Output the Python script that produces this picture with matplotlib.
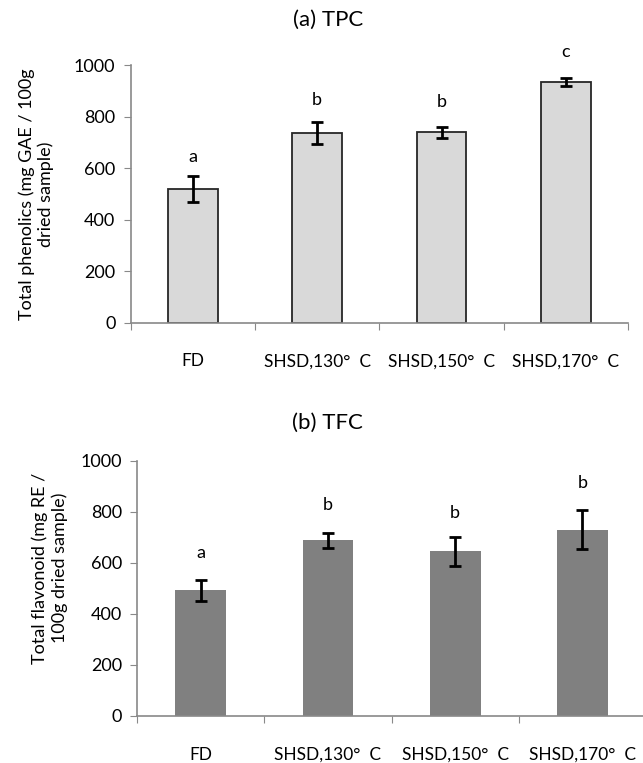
import numpy as np
import matplotlib
matplotlib.use("Agg")
import matplotlib.pyplot as plt

plt.rcParams["font.family"] = ["Lato", "DejaVu Sans"]

categories = ["FD", "SHSD,130°  C", "SHSD,150°  C", "SHSD,170°  C"]

# (a) TPC
tpc_mean = [519, 735, 739, 934]
tpc_err = [50, 42, 22, 15]
tpc_letters = ["a", "b", "b", "c"]
tpc_letter_y = [644, 864, 858, 1052]

# (b) TFC
tfc_mean = [492, 688, 645, 730]
tfc_err = [42, 30, 56, 75]
tfc_letters = ["a", "b", "b", "b"]
tfc_letter_y = [638, 827, 796, 913]

fig = plt.figure(figsize=(6.43, 7.63), dpi=100)
ax1 = fig.add_axes([0.2033, 0.577, 0.7734, 0.3378])
ax2 = fig.add_axes([0.2135, 0.0616, 0.7912, 0.3346])

spine_col = "#898989"


def draw_panel(ax, means, errs, letters, letter_y, face, edge, ylabel, label_xy):
    x = np.arange(len(categories))
    if edge is None:
        ax.bar(x, means, width=0.4, color=face, zorder=2)
    else:
        ax.bar(x, means, width=0.4, color=face, edgecolor=edge, linewidth=1.3, zorder=2)
    ax.errorbar(x, means, yerr=errs, fmt="none", ecolor="black",
                elinewidth=2, capsize=4.5, capthick=2, zorder=3)
    for xi, lt, ly in zip(x, letters, letter_y):
        ax.text(xi, ly, lt, ha="center", va="center", fontsize=13, clip_on=False)

    ax.set_xlim(-0.5, len(categories) - 0.5)
    ax.set_ylim(0, 1000)
    ax.set_yticks(range(0, 1001, 200))
    ax.set_xticks(np.arange(len(categories) + 1) - 0.5)
    ax.set_xticklabels([])
    ax.set_xticks(x, minor=True)
    ax.set_xticklabels(categories, minor=True)
    ax.tick_params(axis="x", which="major", length=5, direction="out", color=spine_col)
    ax.tick_params(axis="x", which="minor", length=0, pad=22, labelsize=12.5)
    ax.tick_params(axis="y", length=5, direction="out", color=spine_col, labelsize=13, pad=6)

    for s in ["top", "right"]:
        ax.spines[s].set_visible(False)
    for s in ["left", "bottom"]:
        ax.spines[s].set_color(spine_col)
        ax.spines[s].set_linewidth(1.2)

    ax.set_ylabel(ylabel, fontsize=13, ha="center", va="center", multialignment="center")
    ax.yaxis.set_label_coords(*label_xy)


draw_panel(ax1, tpc_mean, tpc_err, tpc_letters, tpc_letter_y, "#d9d9d9", "#262626",
           "Total phenolics (mg GAE / 100g\ndried sample)", (-0.19, 0.5))
draw_panel(ax2, tfc_mean, tfc_err, tfc_letters, tfc_letter_y, "#808080", None,
           "Total flavonoid (mg RE /\n100g dried sample)", (-0.172, 0.58))

fig.text(0.51, 1 - 20 / 763, "(a) TPC", ha="center", va="center", fontsize=16)
fig.text(0.51, 1 - 423 / 763, "(b) TFC", ha="center", va="center", fontsize=16)

fig.savefig("out.png", dpi=100)
